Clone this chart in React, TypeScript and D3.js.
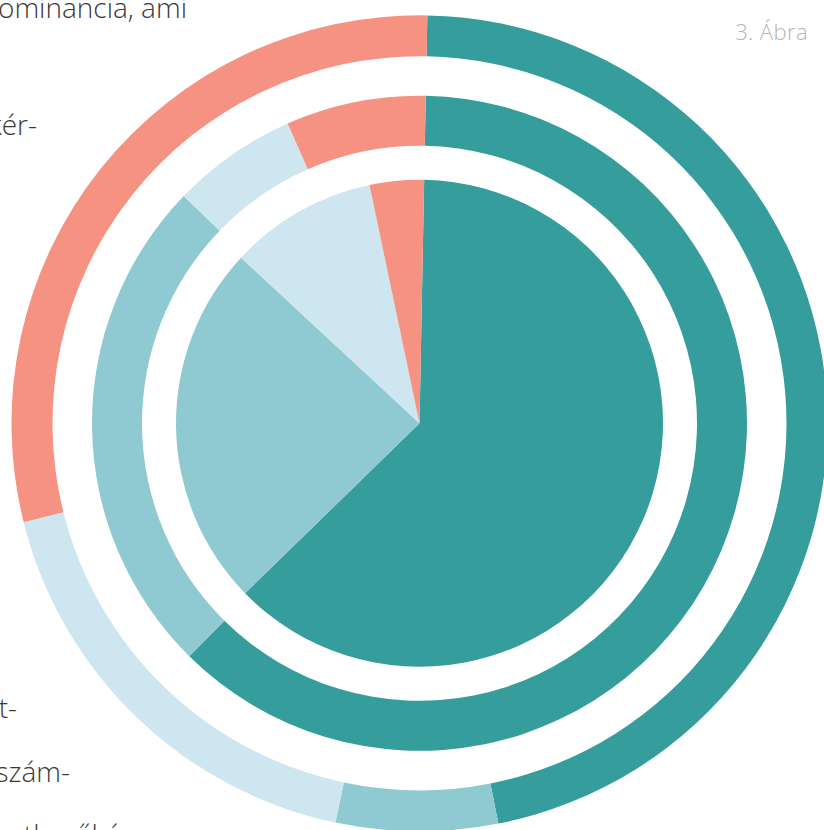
import React from "react";
import * as d3 from "d3";

const categories = ["A", "B", "C", "D"];
const innerValues = [62.4, 24.2, 9.8, 3.6];
const middleValues = [62.1, 24.8, 6.2, 6.9];
const outerValues = [46.6, 6.4, 17.8, 29.2];
const colors = ["#369d9d", "#8fc9d1", "#cde6ef", "#f69282"];

const textLines = [
  { text: "ominancia, ami", x: 187, y: 18 },
  { text: "kér-", x: 37, y: 135 },
  { text: "t-", x: 17, y: 718 },
  { text: "szám-", x: 70, y: 782 },
  { text: "vetkezőkép", x: 137, y: 845 },
];
const title = "3. Ábra";

const W = 824;
const H = 830;
const cx = 419.5;
const cy = 423.3;
const offset = (1.1 * Math.PI) / 180;

function Ring({ values, inner, outer }: { values: number[]; inner: number; outer: number }) {
  const pie = d3
    .pie<number>()
    .sort(null)
    .value((d) => d)
    .startAngle(offset)
    .endAngle(offset + Math.PI * 2);
  const arc = d3.arc<d3.PieArcDatum<number>>().innerRadius(inner).outerRadius(outer);
  return (
    <g>
      {pie(values).map((a, i) => (
        <path key={categories[i]} d={arc(a) || ""} fill={colors[i]} />
      ))}
    </g>
  );
}

export default function App() {
  return (
    <div style={{ position: "fixed", left: 0, top: 0 }}>
      <svg width={W} height={H} style={{ display: "block", background: "#fff" }}>
        {textLines.map((t) => (
          <text
            key={t.text}
            x={t.x}
            y={t.y}
            textAnchor="end"
            fontFamily="'Open Sans', sans-serif"
            fontWeight={300}
            fontSize={28}
            fill="#3a3a3a"
          >
            {t.text}
          </text>
        ))}
        <text
          x={808}
          y={40}
          textAnchor="end"
          fontFamily="'Open Sans', sans-serif"
          fontWeight={300}
          fontSize={22}
          letterSpacing={0.4}
          fill="#b5b5b5"
        >
          {title}
        </text>
        <g transform={`translate(${cx},${cy})`}>
          <Ring values={outerValues} inner={367} outer={408} />
          <Ring values={middleValues} inner={277.5} outer={327.5} />
          <Ring values={innerValues} inner={0} outer={243.5} />
        </g>
      </svg>
    </div>
  );
}
